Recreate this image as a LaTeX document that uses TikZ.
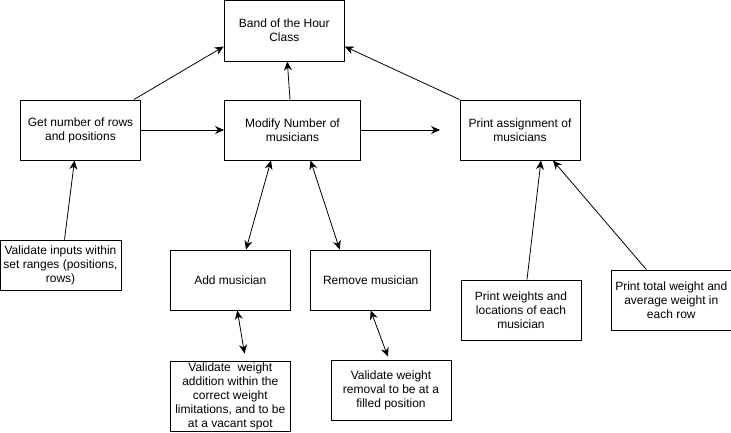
\documentclass[tikz,border=0pt]{standalone}
\usepackage{fontspec}
\setmainfont{Liberation Sans}
\usepackage{tikz}
\usetikzlibrary{calc,arrows.meta}

\tikzset{
  box/.style={draw, line width=1pt, align=center, inner sep=0pt,
    font=\fontsize{12}{14}\selectfont},
  arr/.style={line width=0.8pt, -{Stealth[length=9pt,width=8pt]}},
  darr/.style={line width=0.8pt, {Stealth[length=9pt,width=8pt]}-{Stealth[length=9pt,width=8pt]}}
}

\begin{document}
\begin{tikzpicture}[x=1pt,y=-1pt]
  \def\W{731}  % width in px
  \def\H{432}  % height in px
  \useasboundingbox (0,0) rectangle (\W,\H);

  % Top row
  \node[box, minimum width=120, minimum height=61] (band) at (284.3,30.5) {Band of the Hour\\Class};

  % Middle row
  \node[box, minimum width=120, minimum height=60] (get) at (80.5,130) {Get number of rows\\and positions};
  \node[box, minimum width=136, minimum height=60] (modify) at (292.5,130) {Modify Number of\\musicians};
  \node[box, minimum width=120, minimum height=60] (printas) at (520,130) {Print assignment of\\musicians};
  \coordinate (gap) at (440,130);

  % Lower boxes
  \node[box, minimum width=121, minimum height=50] (valin) at (60.5,265) {Validate inputs within\\set ranges (positions,\\rows)};
  \node[box, minimum width=120, minimum height=60] (add) at (230.3,280) {Add musician};
  \node[box, minimum width=120, minimum height=60] (remove) at (370.7,280) {Remove musician};
  \node[box, minimum width=120, minimum height=60] (printwt) at (521,310) {Print weights and\\locations of each\\musician};
  \node[box, minimum width=120, minimum height=60] (printtot) at (671.3,300) {Print total weight and\\average weight in\\each row};

  % Bottom row
  \node[box, minimum width=120, minimum height=70] (valadd) at (230.3,396) {Validate\ \ weight\\addition within the\\correct weight\\limitations, and to be\\at a vacant spot};
  \node[box, minimum width=120, minimum height=60] (valrem) at (391,390) {Validate weight\\removal to be at a\\filled position};

  % Arrows to the class
  \draw[arr] ([xshift=-7]get.north east) -- ([yshift=15]band.south west);
  \draw[arr] ([xshift=-2.5]modify.north) -- ([xshift=3]band.south);
  \draw[arr] (printas.north west) -- ([yshift=15]band.south east);

  % Middle row arrows
  \draw[arr] (get.east) -- (modify.west);
  \draw[arr] (modify.east) -- (gap);

  % Arrows from the lower boxes
  \draw[arr] ([xshift=4]valin.north) -- ([xshift=-6]get.south);
  \draw[darr] ([xshift=-21.5]modify.south) -- ([xshift=15.7]add.north);
  \draw[darr] ([xshift=18]modify.south) -- ([xshift=-31]remove.north);
  \draw[arr] ([xshift=6]printwt.north) -- ([xshift=21]printas.south);
  \draw[arr] ([xshift=-25]printtot.north) -- ([xshift=33]printas.south);

  % Validation arrows
  \draw[darr, shorten >=7pt] ([xshift=7]add.south) -- ([xshift=15.4]valadd.north);
  \draw[darr, shorten >=3pt] (remove.south) -- ([xshift=-2]valrem.north);
\end{tikzpicture}
\end{document}
